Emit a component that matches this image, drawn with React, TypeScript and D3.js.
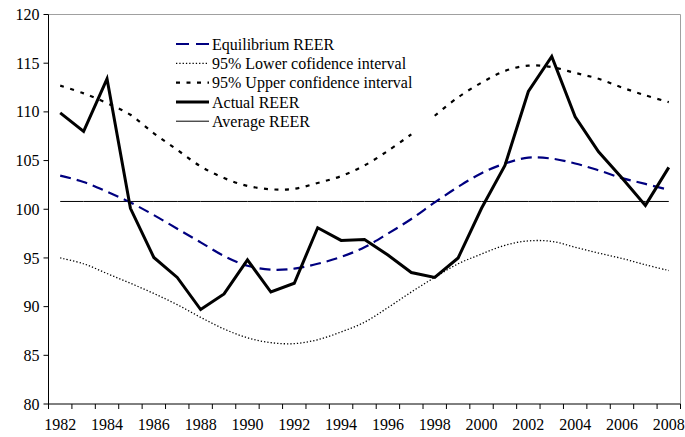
import React from "react";
import * as d3 from "d3";

const years: number[] = d3.range(1982, 2009);

const actualREER: number[] = [
  109.9, 108.0, 113.4, 100.1, 95.05, 93.0, 89.7, 91.3, 94.8, 91.5, 92.4, 98.1, 96.8, 96.9,
  95.3, 93.5, 93.0, 95.0, 100.1, 104.5, 112.1, 115.7, 109.5, 105.9, 103.2, 100.4, 104.3,
];

const equilibriumREER: number[] = [
  103.45, 102.8, 101.8, 100.7, 99.4, 98.0, 96.6, 95.2, 94.2, 93.8, 93.9, 94.4, 95.1, 96.1,
  97.5, 99.0, 100.7, 102.3, 103.7, 104.7, 105.3, 105.2, 104.7, 104.0, 103.2, 102.6, 102.0,
];

const lowerCI: number[] = [
  95.0, 94.4, 93.4, 92.4, 91.35, 90.2, 88.9, 87.7, 86.8, 86.3, 86.2, 86.6, 87.4, 88.4,
  89.9, 91.5, 93.0, 94.4, 95.4, 96.3, 96.75, 96.7, 96.1, 95.5, 94.95, 94.3, 93.7,
];

const upperCI: number[] = [
  112.7, 111.9, 110.9, 109.7, 107.8, 106.1, 104.4, 103.2, 102.4, 102.05, 102.1, 102.7, 103.4, 104.5,
  106.0, 107.7, 109.6, 111.5, 113.0, 114.2, 114.75, 114.6, 114.0, 113.4, 112.5, 111.7, 111.0,
];
// the upper interval line is broken between these two years in the source
const upperGapAfter = 1997;

const averageREER: number[] = years.map(() => 100.8);

const yTicks: number[] = [80, 85, 90, 95, 100, 105, 110, 115, 120];
const xLabelYears: number[] = years.filter((y) => (y - 1982) % 2 === 0);

const legendItems = [
  { label: "Equilibrium REER", stroke: "#000080", width: 2.2, dash: "13,7" },
  { label: "95% Lower cofidence interval", stroke: "#000", width: 1.3, dash: "1.3,2" },
  { label: "95% Upper confidence interval", stroke: "#000", width: 2.2, dash: "4,6.5" },
  { label: "Actual REER", stroke: "#000", width: 3, dash: undefined },
  { label: "Average REER", stroke: "#000", width: 1, dash: undefined },
];

const W = 685;
const H = 437;
const left = 48.5;
const right = 680.5;
const top = 14.5;
const bottom = 404;
const font =
  "'Liberation Serif', 'Times New Roman', Tinos, 'DejaVu Serif', 'Noto Serif', Times, serif";
const fs = 16;

export default function App() {
  const x = d3.scaleBand<number>().domain(years).range([left, right]).paddingInner(0).paddingOuter(0);
  const cx = (yr: number) => (x(yr) as number) + x.bandwidth() / 2;
  const y = d3.scaleLinear().domain([80, 120]).range([bottom, top]);

  type P = { yr: number; v: number | null };
  const mk = (vals: number[]): P[] => vals.map((v, i) => ({ yr: years[i], v }));

  const smooth = d3
    .line<P>()
    .defined((d) => d.v !== null)
    .x((d) => cx(d.yr))
    .y((d) => y(d.v as number))
    .curve(d3.curveCatmullRom.alpha(0.5));
  const straight = d3
    .line<P>()
    .x((d) => cx(d.yr))
    .y((d) => y(d.v as number));

  const upperA = mk(upperCI).filter((d) => d.yr <= upperGapAfter);
  const upperB = mk(upperCI).filter((d) => d.yr > upperGapAfter);

  const boundaries = d3.range(0, years.length + 1).map((i) => left + i * x.bandwidth());
  const textStyle = { fontFamily: font, fontSize: fs };

  return (
    <svg
      width={W}
      height={H}
      style={{ position: "absolute", left: 0, top: 0, background: "#fff" }}
    >
      <rect x={0} y={0} width={W} height={H} fill="#fff" />
      {/* plot border top/right */}
      <path d={`M${left},${top}H${right}V${bottom}`} fill="none" stroke="#a0a0a0" strokeWidth={1} />

      {/* series */}
      <path d={smooth(mk(lowerCI)) || ""} fill="none" stroke="#000" strokeWidth={1.3} strokeDasharray="1.3,2" />
      <path d={smooth(upperA) || ""} fill="none" stroke="#000" strokeWidth={2.2} strokeDasharray="4,6.5" />
      <path d={smooth(upperB) || ""} fill="none" stroke="#000" strokeWidth={2.2} strokeDasharray="4,6.5" />
      <path d={straight(mk(averageREER)) || ""} fill="none" stroke="#000" strokeWidth={1} />
      <path d={smooth(mk(equilibriumREER)) || ""} fill="none" stroke="#000080" strokeWidth={2.2} strokeDasharray="11,6" />
      <path d={straight(mk(actualREER)) || ""} fill="none" stroke="#000" strokeWidth={3} />

      {/* y axis */}
      <line x1={left} x2={left} y1={top} y2={bottom} stroke="#000" strokeWidth={1} />
      {yTicks.map((t) => (
        <g key={t}>
          <line x1={left - 5} x2={left} y1={y(t)} y2={y(t)} stroke="#000" />
          <text x={left - 9} y={y(t)} dy="0.35em" textAnchor="end" style={textStyle} fill="#000">
            {t}
          </text>
        </g>
      ))}

      {/* x axis */}
      <line x1={left} x2={right} y1={bottom} y2={bottom} stroke="#000" strokeWidth={1} />
      {boundaries.map((bx, i) => (
        <line key={i} x1={bx} x2={bx} y1={bottom} y2={bottom + 5} stroke="#000" />
      ))}
      {xLabelYears.map((yr) => (
        <text key={yr} x={cx(yr)} y={430} textAnchor="middle" style={textStyle} fill="#000">
          {yr}
        </text>
      ))}

      {/* legend */}
      {legendItems.map((it, i) => {
        const ly = 44 + i * 19.3;
        return (
          <g key={it.label}>
            <line
              x1={176}
              x2={209}
              y1={ly}
              y2={ly}
              stroke={it.stroke}
              strokeWidth={it.width}
              strokeDasharray={it.dash}
            />
            <text x={212} y={ly} dy="0.35em" style={textStyle} fill="#000">
              {it.label}
            </text>
          </g>
        );
      })}
    </svg>
  );
}
